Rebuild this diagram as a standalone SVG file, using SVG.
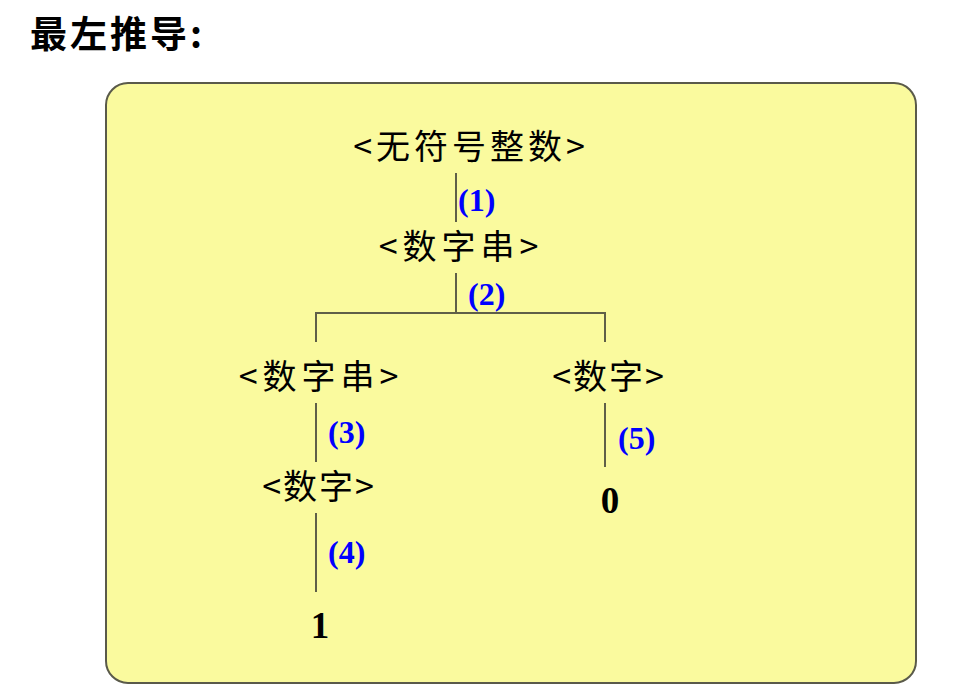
<svg xmlns="http://www.w3.org/2000/svg" width="964" height="693" viewBox="0 0 964 693">
<style>
.n{font-family:"Noto Sans CJK SC","Noto Sans",sans-serif;font-size:34px;fill:#000;text-anchor:middle}
.d{font-family:"Liberation Serif",serif;font-size:37px;font-weight:bold;fill:#000;text-anchor:middle}
.l{font-family:"Liberation Serif",serif;font-size:32px;font-weight:bold;fill:#0000ff}
.e{stroke:#5f5f48;stroke-width:2;fill:none}
</style>
<rect width="964" height="693" fill="#fff"/>
<text x="30" y="48" font-family="'Noto Sans CJK SC',sans-serif" font-size="37" font-weight="bold" letter-spacing="3">最左推导:</text>
<rect x="106" y="83" width="810" height="600" rx="22" fill="#fafa9e" stroke="#5a5a4a" stroke-width="2"/>
<g id="connectors">
<line class="e" x1="456" y1="173" x2="456" y2="222"/>
<line class="e" x1="456" y1="273" x2="456" y2="313"/>
<polyline class="e" points="316,342 316,313 605,313 605,342"/>
<line class="e" x1="316" y1="403" x2="316" y2="462"/>
<line class="e" x1="316" y1="513" x2="316" y2="592"/>
<line class="e" x1="605" y1="403" x2="605" y2="467"/>
<text class="l" x="458" y="211">(1)</text>
<text class="l" x="468" y="305">(2)</text>
<text class="l" x="328" y="443">(3)</text>
<text class="l" x="328" y="563">(4)</text>
<text class="l" x="618" y="449">(5)</text>
</g>
<g id="n1"><text class="n" x="471" y="159" letter-spacing="4">&lt;无符号整数&gt;</text></g>
<g id="n2"><text class="n" x="461" y="259" letter-spacing="5">&lt;数字串&gt;</text></g>
<g id="n3"><text class="n" x="321" y="389" letter-spacing="5">&lt;数字串&gt;</text></g>
<g id="n4"><text class="n" x="609" y="389" letter-spacing="2">&lt;数字&gt;</text></g>
<g id="n5"><text class="n" x="319" y="499" letter-spacing="2">&lt;数字&gt;</text></g>
<g id="n6"><text class="d" x="610" y="513">0</text></g>
<g id="n7"><text class="d" x="320" y="638">1</text></g>
</svg>
